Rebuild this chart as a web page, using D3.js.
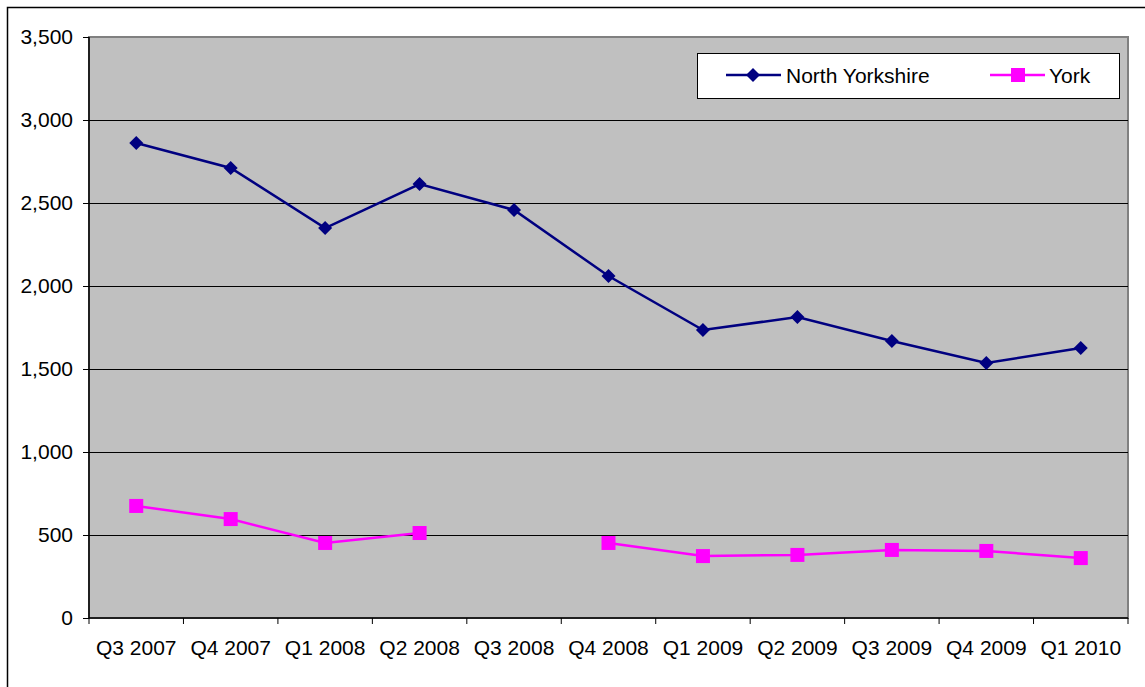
<!DOCTYPE html>
<html>
<head>
<meta charset="utf-8">
<script src="https://cdn.jsdelivr.net/npm/d3@7"></script>
<style>
    body { margin: 0; background: #fff; }
    svg { display: block; }
    text { font-family: "Liberation Sans", Arial, sans-serif; fill: #000; }
</style>
</head>
<body>
<div id="chart"></div>
<script>
// 数据
const quarters = ["Q3 2007", "Q4 2007", "Q1 2008", "Q2 2008", "Q3 2008", "Q4 2008",
    "Q1 2009", "Q2 2009", "Q3 2009", "Q4 2009", "Q1 2010"]
const northYorkshire = [2861, 2711, 2349, 2614, 2458, 2060, 1735, 1813, 1669, 1536, 1627]
const york = [675, 596, 452, 512, null, 452, 373, 380, 410, 404, 361]
const yTicks = [0, 500, 1000, 1500, 2000, 2500, 3000, 3500]

const width = 1145, height = 687
const plot = {left: 89, top: 37, right: 1128, bottom: 618}
const fontSize = 21

const svg = d3.select("#chart").append("svg")
    .attr("width", width)
    .attr("height", height)

// 外框
svg.append("rect")
    .attr("x", 7.5).attr("y", 7.5)
    .attr("width", width).attr("height", height)
    .attr("fill", "#fff")
    .attr("stroke", "#000")
    .attr("stroke-width", 1.5)

const x = d3.scaleBand()
    .domain(quarters)
    .range([plot.left, plot.right])
const y = d3.scaleLinear()
    .domain([0, 3500])
    .range([plot.bottom, plot.top])

// 绘图区背景
svg.append("rect")
    .attr("x", plot.left).attr("y", plot.top)
    .attr("width", plot.right - plot.left)
    .attr("height", plot.bottom - plot.top)
    .attr("fill", "#c0c0c0")
    .attr("stroke", "#808080")
    .attr("stroke-width", 2)

// 网格线
svg.append("g")
    .selectAll("line")
    .data(yTicks.filter(d => d > 0 && d < 3500))
    .enter().append("line")
    .attr("x1", plot.left).attr("x2", plot.right)
    .attr("y1", d => Math.round(y(d)) + 0.5)
    .attr("y2", d => Math.round(y(d)) + 0.5)
    .attr("stroke", "#000")
    .attr("stroke-width", 1)

// Y轴
const yAxis = svg.append("g")
    .attr("transform", `translate(${plot.left},0)`)
    .call(d3.axisLeft(y).tickValues(yTicks).tickSize(6).tickPadding(10)
        .tickFormat(d3.format(",")))
yAxis.selectAll("text").attr("font-size", fontSize).attr("font-family", "Liberation Sans, Arial, sans-serif")
yAxis.selectAll("line, path").attr("stroke", "#000")
yAxis.select(".domain").attr("d", `M0,${plot.top}V${plot.bottom}`).attr("stroke-width", 1.5)

// X轴
const xAxis = svg.append("g")
    .attr("transform", `translate(0,${plot.bottom})`)
    .call(d3.axisBottom(x).tickSize(0).tickPadding(22))
xAxis.select(".domain").attr("d", `M${plot.left},0H${plot.right}`).attr("stroke", "#000").attr("stroke-width", 1.5)
xAxis.selectAll("text").attr("font-size", fontSize).attr("font-family", "Liberation Sans, Arial, sans-serif")
// 类目分隔刻度
svg.append("g")
    .selectAll("line")
    .data(d3.range(quarters.length + 1))
    .enter().append("line")
    .attr("x1", i => plot.left + i * x.step())
    .attr("x2", i => plot.left + i * x.step())
    .attr("y1", plot.bottom)
    .attr("y2", plot.bottom + 6)
    .attr("stroke", "#000")

const cx = d => x(d) + x.bandwidth() / 2

// North Yorkshire
const nyData = quarters.map((q, i) => ({q, v: northYorkshire[i]}))
svg.append("path")
    .datum(nyData)
    .attr("fill", "none")
    .attr("stroke", "#000080")
    .attr("stroke-width", 2.5)
    .attr("d", d3.line().x(d => cx(d.q)).y(d => y(d.v)))
svg.append("g")
    .selectAll("path")
    .data(nyData)
    .enter().append("path")
    .attr("transform", d => `translate(${cx(d.q)},${y(d.v)})`)
    .attr("d", "M0,-7L7,0L0,7L-7,0Z")
    .attr("fill", "#000080")

// York
const yorkData = quarters.map((q, i) => ({q, v: york[i]}))
svg.append("path")
    .datum(yorkData)
    .attr("fill", "none")
    .attr("stroke", "#ff00ff")
    .attr("stroke-width", 2.5)
    .attr("d", d3.line().defined(d => d.v != null).x(d => cx(d.q)).y(d => y(d.v)))
svg.append("g")
    .selectAll("rect")
    .data(yorkData.filter(d => d.v != null))
    .enter().append("rect")
    .attr("x", d => cx(d.q) - 7)
    .attr("y", d => y(d.v) - 7)
    .attr("width", 14).attr("height", 14)
    .attr("fill", "#ff00ff")

// 图例
const legend = svg.append("g")
legend.append("rect")
    .attr("x", 697.5).attr("y", 53.5)
    .attr("width", 422).attr("height", 45)
    .attr("fill", "#fff")
    .attr("stroke", "#000")
const ly = 75
legend.append("line")
    .attr("x1", 726).attr("x2", 781).attr("y1", ly).attr("y2", ly)
    .attr("stroke", "#000080").attr("stroke-width", 2.5)
legend.append("path")
    .attr("transform", `translate(753,${ly})`)
    .attr("d", "M0,-7L7,0L0,7L-7,0Z")
    .attr("fill", "#000080")
legend.append("text")
    .attr("x", 786).attr("y", ly + 7.5)
    .attr("font-size", fontSize)
    .text("North Yorkshire")
legend.append("line")
    .attr("x1", 990).attr("x2", 1045).attr("y1", ly).attr("y2", ly)
    .attr("stroke", "#ff00ff").attr("stroke-width", 2.5)
legend.append("rect")
    .attr("x", 1011).attr("y", ly - 7)
    .attr("width", 14).attr("height", 14)
    .attr("fill", "#ff00ff")
legend.append("text")
    .attr("x", 1049).attr("y", ly + 7.5)
    .attr("font-size", fontSize)
    .text("York")
</script>
</body>
</html>
